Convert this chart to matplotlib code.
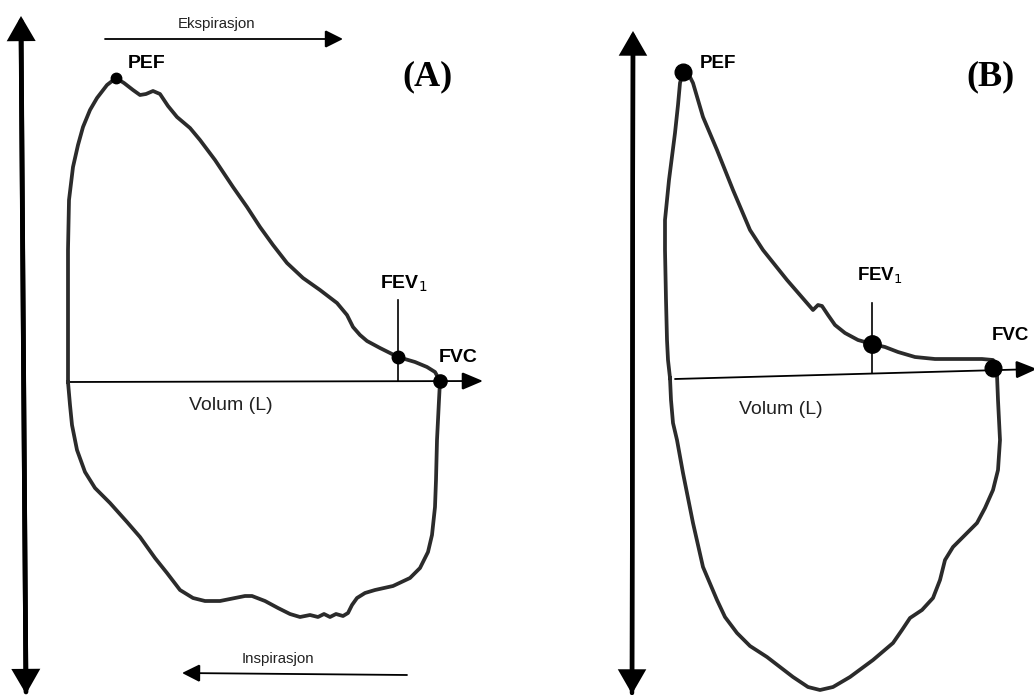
import numpy as np
import matplotlib
matplotlib.use("Agg")
import matplotlib.pyplot as plt
from matplotlib.patches import FancyArrowPatch

# flow-volume loop (A): volume and flow, relative to the
# left end of the volume axis (flow positive = expiration)
loop_a_vol = [0, 0, 0, 1, 5, 10, 15, 22, 29, 39, 48, 56, 65, 72, 78, 85, 92, 100, 109,
              122, 132, 147, 165, 179, 192, 205, 219, 235, 252, 269, 279, 285, 292, 299,
              312, 330, 347, 359, 367, 372,
              371, 369, 368, 367, 364, 360, 352, 342, 325, 307, 297, 289, 284, 280, 275,
              268, 262, 256, 250, 242, 232, 222, 210, 197, 184, 177, 167, 152, 137, 125,
              112, 99, 87, 72, 59, 42, 27, 17, 9, 4, 2, 0]
loop_a_flow = [0, 32, 132, 182, 215, 237, 255, 272, 284, 297, 304, 299, 292, 287, 288, 291,
               288, 276, 265, 254, 242, 222, 195, 175, 155, 137, 119, 104, 92, 79, 67, 55,
               47, 41, 34, 25, 20, 15, 10, 1,
               -18, -58, -98, -125, -153, -170, -186, -196, -204, -208, -211, -216, -223,
               -231, -234, -232, -235, -232, -235, -233, -235, -232, -226, -219, -214,
               -214, -216, -219, -219, -216, -208, -191, -176, -155, -140, -121, -106,
               -90, -68, -43, -23, 0]

# flow-volume loop (B), obstructive pattern
loop_b_vol = [0, -2, -3, -4, -5, -5, -1, 5, 8, 10, 13, 19, 23, 33, 47, 63, 80, 93, 105,
              117, 130, 143, 148, 152, 158, 165, 175, 188, 202, 215, 228, 245, 265, 290,
              312, 323, 326,
              327, 328, 330, 328, 323, 315, 307, 295, 283, 275, 270, 263, 252, 240, 232,
              223, 203, 180, 163, 150, 138, 123, 97, 80, 67, 55, 47, 33, 23, 13, 7, 3, 1, 0]
loop_b_flow = [0, 18, 38, 78, 128, 158, 198, 245, 273, 295, 306, 303, 295, 261, 228, 188,
               148, 128, 113, 98, 83, 68, 73, 72, 63, 53, 45, 38, 34, 31, 26, 21, 19, 19,
               19, 18, 10,
               3, -22, -62, -92, -112, -130, -145, -157, -169, -182, -202, -220, -232,
               -240, -252, -265, -282, -299, -309, -312, -309, -299, -279, -268, -255,
               -239, -222, -189, -145, -95, -62, -45, -22, 0]

# marked points (volume, flow): PEF, FEV1, FVC
marks_a = {"PEF": (48, 304), "FEV1": (330, 25), "FVC": (372, 1)}
marks_b = {"PEF": (13, 306), "FEV1": (202, 34), "FVC": (323, 10)}

panel_labels = ["(A)", "(B)"]
axis_label = "Volum (L)"

LINE = "#2b2b2b"
SANS = "Liberation Sans"

fig = plt.figure(figsize=(10.34, 6.95), dpi=100)
ax = fig.add_axes([0, 0, 1, 1])
ax.set_xlim(0, 1034)
ax.set_ylim(695, 0)
ax.axis("off")


def arrow(p0, p1, lw, hl, hw):
    ax.add_patch(FancyArrowPatch(p0, p1, arrowstyle=f"-|>,head_length={hl},head_width={hw}",
                                 mutation_scale=10, lw=lw, color="black",
                                 shrinkA=0, shrinkB=0, joinstyle="miter"))


def draw_loop(ox, oy, vol, flow, marks, sizes):
    x = ox + np.asarray(vol, float)
    y = oy - np.asarray(flow, float)
    ax.plot(x, y, color=LINE, lw=2.7, solid_joinstyle="round", zorder=3)
    for key, ms in zip(["PEF", "FEV1", "FVC"], sizes):
        v, f = marks[key]
        ax.plot(ox + v, oy - f, "o", color="black", ms=ms, zorder=4)


# ---- panel A ----
ox, oy = 68, 382
arrow((26, 692), (21, 16), 3.4, 1.3, 0.75)
arrow((21, 30), (26, 694), 3.4, 1.3, 0.75)
arrow((ox, oy), (483, 381), 1.3, 1.3, 0.55)
ax.plot([398, 398], [300, 381], color="black", lw=1.2)
draw_loop(ox, oy, loop_a_vol, loop_a_flow, marks_a, [7.5, 9, 9.5])
arrow((105, 39), (343, 39), 1.3, 1.1, 0.55)
arrow((407, 675), (182, 673), 1.3, 1.1, 0.55)
ax.text(217, 24, "Ekspirasjon", ha="center", va="center", fontsize=10.8, family=SANS, color="#222222")
ax.text(278, 659, "Inspirasjon", ha="center", va="center", fontsize=10.8, family=SANS, color="#222222")
ax.text(231, 406, axis_label, ha="center", va="center", fontsize=14, family=SANS, color="#222222")
ax.text(128, 63, "PEF", ha="left", va="center", fontsize=14, family=SANS, weight="bold")
ax.text(380, 284, "FEV$_1$", ha="left", va="center", fontsize=14, family=SANS, weight="bold")
ax.text(439, 357, "FVC", ha="left", va="center", fontsize=14, family=SANS, weight="bold")
ax.text(428, 77, panel_labels[0], ha="center", va="center", fontsize=26,
        family="Liberation Serif", weight="bold")

# ---- panel B ----
ox, oy = 670, 378
arrow((632, 693), (633, 31), 3.2, 1.3, 0.75)
arrow((633, 45), (632, 694), 3.2, 1.3, 0.75)
arrow((675, 379), (1037, 369), 1.3, 1.3, 0.55)
ax.plot([872, 872], [303, 373], color="black", lw=1.2)
draw_loop(ox, oy, loop_b_vol, loop_b_flow, marks_b, [12, 12.5, 12])
ax.text(781, 409, axis_label, ha="center", va="center", fontsize=14, family=SANS, color="#222222")
ax.text(700, 64, "PEF", ha="left", va="center", fontsize=13.5, family=SANS, weight="bold")
ax.text(857, 276, "FEV$_1$", ha="left", va="center", fontsize=13.5, family=SANS, weight="bold")
ax.text(992, 335, "FVC", ha="left", va="center", fontsize=13.5, family=SANS, weight="bold")
ax.text(991, 77, panel_labels[1], ha="center", va="center", fontsize=26,
        family="Liberation Serif", weight="bold")

fig.savefig("out.png", dpi=100)
